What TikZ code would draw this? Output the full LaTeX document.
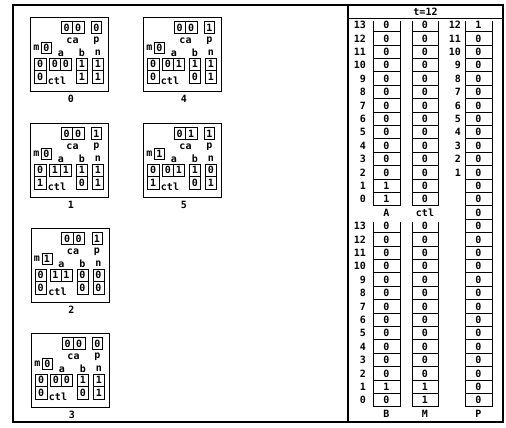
\documentclass[tikz,border=0pt]{standalone}
\usepackage{fontspec}
\setmonofont{DejaVu Sans Mono}
\tikzset{
  cell/.style={draw, inner sep=0pt, line width=0.95pt},
  lbl/.style={inner sep=0pt},
  frameline/.style={line width=1.2pt},
  colline/.style={line width=0.95pt},
  stateframe/.style={draw, line width=1.4pt, inner sep=0pt, minimum width=78pt, minimum height=74pt, anchor=north west},
}
\newcommand\drawstate[9]{\def\stX{#1}\def\stY{#2}\def\stL{#3}\def\stCa{#4}\def\stCb{#5}\def\stP{#6}\def\stM{#7}\def\stTa{#8}\def\stTb{#9}\drawstaterest}
\newcommand\drawstaterest[6]{%
\begin{scope}[shift={(\stX,\stY)}]
\node[stateframe] (s\stL) at (0,0) {};
\node[cell, minimum width=11.5pt, minimum height=12pt] (s\stL-ca1) at (36.75,10.5) {\stCa};
\node[cell, minimum width=11.5pt, minimum height=12pt] (s\stL-ca2) at (48.25,10.5) {\stCb};
\node[lbl] (s\stL-lca) at (42.5,23.5) {ca};
\node[cell, minimum width=10pt, minimum height=12pt] (s\stL-p) at (66.5,10.5) {\stP};
\node[lbl] (s\stL-lp) at (66.5,23.5) {p};
\node[lbl] (s\stL-lm) at (6.5,30.5) {m};
\node[cell, minimum width=10pt, minimum height=11pt] (s\stL-m) at (16.5,30.5) {\stM};
\node[lbl] (s\stL-la) at (31,36.5) {a};
\node[lbl] (s\stL-lb) at (52,35.5) {b};
\node[lbl] (s\stL-ln) at (68,35.5) {n};
\node[cell, minimum width=11.5pt, minimum height=12.5pt] (s\stL-t1) at (10.25,47.25) {\stTa};
\node[cell, minimum width=11.5pt, minimum height=12.5pt] (s\stL-t2) at (10.25,59.75) {\stTb};
\node[lbl] (s\stL-lt) at (27,63.5) {ctl};
\node[cell, minimum width=11pt, minimum height=11.5pt] (s\stL-a1) at (25,47.25) {#1};
\node[cell, minimum width=11pt, minimum height=11.5pt] (s\stL-a2) at (36,47.25) {#2};
\node[cell, minimum width=11pt, minimum height=12.5pt] (s\stL-b1) at (52,47.25) {#3};
\node[cell, minimum width=11pt, minimum height=12.5pt] (s\stL-b2) at (52,59.75) {#4};
\node[cell, minimum width=11pt, minimum height=12.5pt] (s\stL-n1) at (68,47.25) {#5};
\node[cell, minimum width=11pt, minimum height=12.5pt] (s\stL-n2) at (68,59.75) {#6};
\node[lbl] (s\stL-name) at (41,81.5) {\stL};
\end{scope}}
\newcommand\tabcol[4]{%
  \pgfmathsetmacro\tcTop{25+13.4*#3-4}%
  \pgfmathsetmacro\tcBot{25+13.4*#4+6.7}%
  \draw[colline] (#1-#2,\tcTop) -- (#1-#2,\tcBot) -- (#1+#2,\tcBot) -- (#1+#2,\tcTop);%
  \pgfmathtruncatemacro\tcLast{#4-1}%
  \foreach \k in {#3,...,\tcLast}{\draw[colline] (#1-#2,{25+13.4*\k+6.7}) -- (#1+#2,{25+13.4*\k+6.7});}%
}
\begin{document}
\begin{tikzpicture}[x=1pt,y=-1pt,font=\ttfamily\bfseries\fontsize{10}{11}\selectfont]
\useasboundingbox (0,0) rectangle (506,428);
\draw[frameline] (13,5) rectangle (503,422);
\draw[frameline] (348,5) -- (348,422);
\draw[colline] (348,18.5) -- (503,18.5);
\node[lbl] (title) at (425.5,12) {t=12};
% states
\drawstate{30}{17}{0}{0}{0}{0}{0}{0}{0}{0}{0}{1}{1}{1}{1}
\drawstate{143}{17}{4}{0}{0}{1}{0}{0}{0}{0}{1}{1}{0}{1}{1}
\drawstate{30}{123}{1}{0}{0}{1}{0}{0}{1}{1}{1}{1}{0}{1}{1}
\drawstate{143}{123}{5}{0}{1}{1}{1}{0}{1}{0}{1}{1}{0}{0}{1}
\drawstate{30.5}{228}{2}{0}{0}{1}{1}{0}{0}{1}{1}{0}{0}{0}{0}
\drawstate{31}{333}{3}{0}{0}{0}{0}{0}{0}{0}{0}{1}{0}{1}{1}
% table columns
\tabcol{386.5}{13.5}{0}{13}
\tabcol{425}{13}{0}{13}
\tabcol{386.5}{13.5}{15}{28}
\tabcol{425}{13}{15}{28}
\tabcol{478.5}{13.5}{0}{28}
% group 1
\foreach \v [count=\c from 0] in {0,0,0,0,0,0,0,0,0,0,0,0,1,1} {
  \pgfmathsetmacro\yy{25+13.4*\c}
  \pgfmathtruncatemacro\lab{13-\c}
  \node[lbl, anchor=east] (ia\c) at (366,\yy) {\lab};
  \node[lbl] (A\c) at (386.5,\yy) {\v};
  \node[lbl] (ctl\c) at (425,\yy) {0};
}
\node[lbl] (labA) at (386.5,212.6) {A};
\node[lbl] (labctl) at (425,212.6) {ctl};
% group 2
\foreach \v/\w [count=\c from 0] in {0/0,0/0,0/0,0/0,0/0,0/0,0/0,0/0,0/0,0/0,0/0,0/0,1/1,0/1} {
  \pgfmathsetmacro\yy{25+13.4*(\c+15)}
  \pgfmathtruncatemacro\lab{13-\c}
  \node[lbl, anchor=east] (ib\c) at (366,\yy) {\lab};
  \node[lbl] (B\c) at (386.5,\yy) {\v};
  \node[lbl] (M\c) at (425,\yy) {\w};
}
\node[lbl] (labB) at (386.5,413.6) {B};
\node[lbl] (labM) at (425,413.6) {M};
\node[lbl] (labP) at (478.5,413.6) {P};
% P column
\foreach \c in {0,...,28} {
  \pgfmathsetmacro\yy{25+13.4*\c}
  \ifnum\c=0 \def\pv{1}\else\def\pv{0}\fi
  \node[lbl] (P\c) at (478.5,\yy) {\pv};
}
\foreach \c in {0,...,11} {
  \pgfmathsetmacro\yy{25+13.4*\c}
  \pgfmathtruncatemacro\lab{12-\c}
  \node[lbl, anchor=east] (ip\c) at (461,\yy) {\lab};
}
\end{tikzpicture}
\end{document}
